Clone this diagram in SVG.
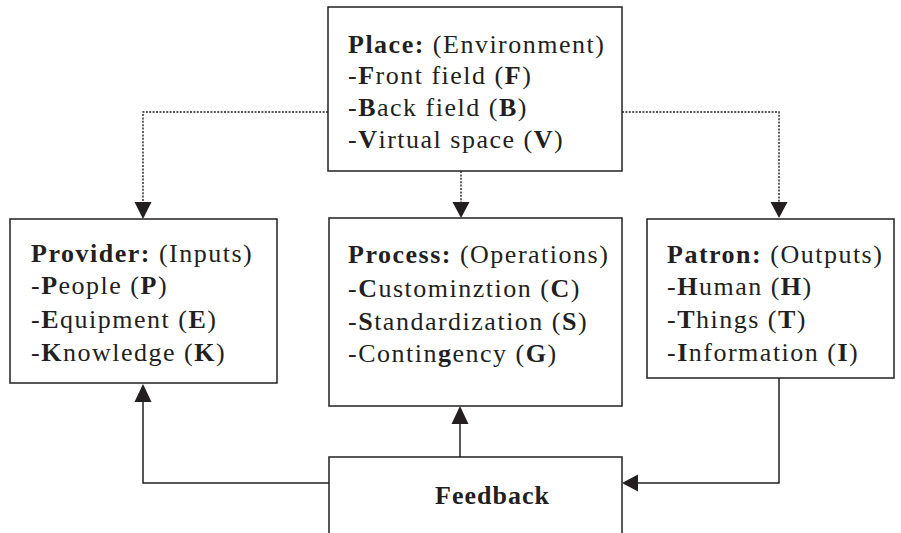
<svg xmlns="http://www.w3.org/2000/svg" width="901" height="533" viewBox="0 0 901 533">
<style>
.box{fill:#fff;stroke:#231f20;stroke-width:1.5}
.t{font-family:"Liberation Serif","Times New Roman",serif;font-size:26px;letter-spacing:1.5px;fill:#231f20}
.b{font-weight:bold}
.dot{fill:none;stroke:#231f20;stroke-width:1.4;stroke-dasharray:2 1.4}
.sol{fill:none;stroke:#231f20;stroke-width:1.5}
.ah{fill:#231f20}
</style>
<rect width="901" height="533" fill="#fff"/>
<g id="connectors">
<path class="dot" d="M328 112H143V203"/>
<polygon class="ah" points="134.5,202 151.5,202 143,219"/>
<path class="dot" d="M461 171V203"/>
<polygon class="ah" points="452.5,202 469.5,202 461,218"/>
<path class="dot" d="M622 112H779V203"/>
<polygon class="ah" points="770.5,202 787.5,202 779,218"/>
<path class="sol" d="M329 483H143V400"/>
<polygon class="ah" points="134.5,402 151.5,402 143,384"/>
<path class="sol" d="M460 457V422"/>
<polygon class="ah" points="451.5,424 468.5,424 460,406"/>
<path class="sol" d="M779 378V483H636"/>
<polygon class="ah" points="638,474.5 638,491.5 622,483"/>
</g>
<g id="place">
<rect class="box" x="328" y="7" width="294" height="164"/>
<text class="t" x="348" y="53"><tspan class="b">Place:</tspan> (Environment)</text>
<text class="t" x="348" y="84">-<tspan class="b">F</tspan>ront field (<tspan class="b">F</tspan>)</text>
<text class="t" x="348" y="116">-<tspan class="b">B</tspan>ack field (<tspan class="b">B</tspan>)</text>
<text class="t" x="348" y="148">-<tspan class="b">V</tspan>irtual space (<tspan class="b">V</tspan>)</text>
</g>
<g id="provider">
<rect class="box" x="10" y="219" width="267" height="164"/>
<text class="t" x="31" y="262"><tspan class="b">Provider:</tspan> (Inputs)</text>
<text class="t" x="31" y="294">-<tspan class="b">P</tspan>eople (<tspan class="b">P</tspan>)</text>
<text class="t" x="31" y="328">-<tspan class="b">E</tspan>quipment (<tspan class="b">E</tspan>)</text>
<text class="t" x="31" y="361">-<tspan class="b">K</tspan>nowledge (<tspan class="b">K</tspan>)</text>
</g>
<g id="process">
<rect class="box" x="329" y="218" width="293" height="188"/>
<text class="t" x="348" y="263"><tspan class="b">Process:</tspan> (Operations)</text>
<text class="t" x="348" y="297">-<tspan class="b">C</tspan>ustominztion (<tspan class="b">C</tspan>)</text>
<text class="t" x="348" y="330">-<tspan class="b">S</tspan>tandardization (<tspan class="b">S</tspan>)</text>
<text class="t" x="348" y="362">-Contin<tspan class="b">g</tspan>ency (<tspan class="b">G</tspan>)</text>
</g>
<g id="patron">
<rect class="box" x="647" y="219" width="247" height="159"/>
<text class="t" x="667" y="263"><tspan class="b">Patron:</tspan> (Outputs)</text>
<text class="t" x="667" y="295">-<tspan class="b">H</tspan>uman (<tspan class="b">H</tspan>)</text>
<text class="t" x="667" y="328">-<tspan class="b">T</tspan>hings (<tspan class="b">T</tspan>)</text>
<text class="t" x="667" y="361">-<tspan class="b">I</tspan>nformation (<tspan class="b">I</tspan>)</text>
</g>
<g id="feedback">
<rect class="box" x="329" y="457" width="293" height="90"/>
<text class="t b" x="435" y="504" style="letter-spacing:1px">Feedback</text>
</g>
</svg>
